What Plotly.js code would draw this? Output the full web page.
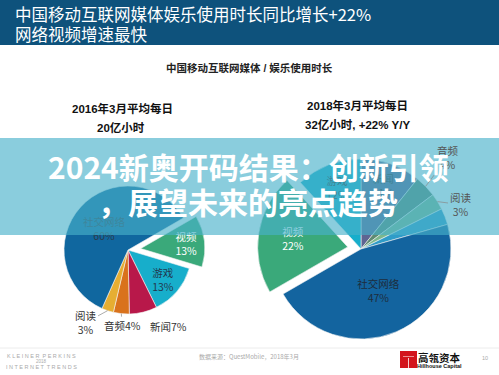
<!DOCTYPE html>
<html>
<head>
<meta charset="utf-8">
<script src="https://cdn.plot.ly/plotly-3.0.1.min.js"></script>
<style>html,body{margin:0;padding:0;background:#fff;}#chart{width:499px;height:375px;}</style>
</head>
<body>
<div id="chart"></div>
<script>
// ---- data ----
const leftLabels = ['视频', '游戏', '新闻', '音频', '阅读', '社交网络'];
const leftValues = [13, 13, 7, 4, 3, 60];
const rightLabels = ['新闻', '音频', '阅读', '其他', '社交网络', '视频', '游戏'];
const rightValues = [11, 4, 3, 3, 47, 22, 12];

const titleLines = ['中国移动互联网媒体娱乐使用时长同比增长+22%', '网络视频增速最快'];
const subTitle = '中国移动互联网媒体 / 娱乐使用时长';
const leftHeader = ['2016年3月平均每日', '20亿小时'];
const rightHeader = ['2018年3月平均每日', '32亿小时, +22% Y/Y'];
const bannerLines = ['2024新奥开码结果：创新引领', '，展望未来的亮点趋势'];

// ---- style ----
const W = 499, H = 375;
const px = x => x / W;
const py = y => 1 - y / H;
const CJK = 'Noto Sans CJK SC, Liberation Sans, sans-serif';
const ARIAL = 'Liberation Sans, Noto Sans CJK SC, sans-serif';

// pie geometry (pixels): centre, radius, pull
const LP = {cx: 128, cy: 250, r: 64, rot: 60, maxPull: 0.2};
const RP = {cx: 361, cy: 249, r: 90, rot: 0, maxPull: 0.15};
const dom = p => {
  const h = p.r * (1 + p.maxPull);
  return {x: [px(p.cx - h), px(p.cx + h)], y: [py(p.cy + h), py(p.cy - h)]};
};

const leftColors = ['#3aa97a', '#17aecb', '#b8184a', '#d9721c', '#e6ae32', '#10679f'];
const leftPos = ['inside', 'inside', 'none', 'none', 'none', 'inside'];
const leftTextColor = ['#ffffff', '#22384f', '#333', '#333', '#333', '#2b3b4b'];
// outside labels: [line break?, text offset dx, dy]
const leftOut = {2: [false, 25, 14], 3: [false, 1, 12], 4: [true, -22, 12]};

const rightColors = ['#5e6592', '#5f8a72', '#7cb78d', '#2f9cc8', '#13649f', '#3aa97a', '#17aecb'];
const rightPos = ['inside', 'none', 'none', 'none', 'inside', 'inside', 'inside'];
const rightTextColor = ['#333', '#555', '#555', '#333', '#1e2d3d', '#ffffff', '#333'];
const rightOut = {1: [true, 22, -29], 2: [true, 23, 3]};

const inText = (labels, values, pos) => labels.map((l, i) => pos[i] === 'inside' ? l + '<br>' + values[i] + '%' : '');

// leader-line anchor point at the middle of a slice's rim
const rimPoint = (p, values, i) => {
  const tot = values.reduce((a, b) => a + b, 0);
  let cum = 0;
  for (let k = 0; k < i; k++) cum += values[k];
  const th = (p.rot + 360 * (cum + values[i] / 2) / tot) * Math.PI / 180;
  return [p.cx + p.r * Math.sin(th), p.cy - p.r * Math.cos(th)];
};

const traces = [
  {
    type: 'pie', labels: leftLabels, values: leftValues, sort: false,
    direction: 'clockwise', rotation: LP.rot,
    pull: [0.2, 0, 0, 0, 0, 0],
    marker: {colors: leftColors, line: {color: '#f4f4f4', width: 0.6}},
    text: inText(leftLabels, leftValues, leftPos), textinfo: 'text',
    textposition: leftPos, insidetextorientation: 'horizontal',
    insidetextfont: {family: CJK, size: 10.5, color: leftTextColor},
    domain: dom(LP),
    hoverinfo: 'label+percent'
  },
  {
    type: 'pie', labels: rightLabels, values: rightValues, sort: false,
    direction: 'clockwise', rotation: RP.rot,
    pull: [0, 0, 0, 0, 0, 0.15, 0],
    marker: {colors: rightColors, line: {color: '#f4f4f4', width: 0.6}},
    text: inText(rightLabels, rightValues, rightPos), textinfo: 'text',
    textposition: rightPos, insidetextorientation: 'horizontal',
    insidetextfont: {family: CJK, size: 10.5, color: rightTextColor},
    domain: dom(RP),
    hoverinfo: 'label+percent'
  }
];

const ann = (x, y, text, font, extra) => Object.assign({
  xref: 'paper', yref: 'paper', x: px(x), y: py(y), text: text, showarrow: false,
  xanchor: 'center', yanchor: 'middle', font: font
}, extra || {});

const annotations = [
  ann(13, 14.5, titleLines[0], {family: CJK, size: 16.5, color: '#ffffff'}, {xanchor: 'left'}),
  ann(13, 33.5, titleLines[1], {family: CJK, size: 16.5, color: '#ffffff'}, {xanchor: 'left'}),
  ann(250, 68, '<b>' + subTitle + '</b>', {family: ARIAL, size: 10.5, color: '#222'}),
  ann(122, 109, '<b>' + leftHeader[0] + '</b>', {family: ARIAL, size: 11.5, color: '#111'}),
  ann(121, 128, '<b>' + leftHeader[1] + '</b>', {family: ARIAL, size: 11.5, color: '#111'}),
  ann(357, 106, '<b>' + rightHeader[0] + '</b>', {family: ARIAL, size: 11.5, color: '#111'}),
  ann(357, 125, '<b>' + rightHeader[1] + '</b>', {family: ARIAL, size: 11.5, color: '#111'}),
  ann(41, 355.5, 'K L E I N E R  P E R K I N S', {family: ARIAL, size: 5.5, color: '#aaaaaa'}),
  ann(41, 361.5, '2018', {family: ARIAL, size: 4.5, color: '#aaaaaa'}),
  ann(41, 367, 'I N T E R N E T  T R E N D S', {family: ARIAL, size: 5.5, color: '#aaaaaa'}),
  ann(249, 356, '数据来源：QuestMobile，2018年3月', {family: CJK, size: 6, color: '#aaaaaa'}),
  ann(439.5, 357, '<b>高瓴资本</b>', {family: CJK, size: 10.5, color: '#111'}),
  ann(439.5, 366, '<b>Hillhouse Capital</b>', {family: ARIAL, size: 5.5, color: '#111'}),
  ann(485, 358, '10', {family: ARIAL, size: 5.5, color: '#aaaaaa'})
];

// outside slice labels with leader lines
const addOut = (p, labels, values, outs, color) => {
  Object.keys(outs).forEach(k => {
    const i = +k, o = outs[k];
    const pt = rimPoint(p, values, i);
    annotations.push({
      xref: 'paper', yref: 'paper', x: px(pt[0]), y: py(pt[1]),
      text: labels[i] + (o[0] ? '<br>' : '') + values[i] + '%',
      showarrow: true, arrowhead: 0, arrowwidth: 0.7, arrowcolor: '#888',
      ax: o[1], ay: o[2], standoff: 0,
      font: {family: CJK, size: 10.5, color: color}
    });
  });
};
addOut(LP, leftLabels, leftValues, leftOut, '#333');
addOut(RP, rightLabels, rightValues, rightOut, '#555');

// banner text goes on top of everything
annotations.push(ann(248, 166, '<b>' + bannerLines[0] + '</b>', {family: CJK, size: 30, color: '#ffffff'}));
annotations.push(ann(248, 201, '<b>' + bannerLines[1] + '</b>', {family: CJK, size: 30, color: '#ffffff'}));

const shapes = [
  {type: 'rect', xref: 'paper', yref: 'paper', x0: 0, x1: 1, y0: py(45), y1: 1,
   fillcolor: '#0e527c', line: {width: 0}, layer: 'below'},
  {type: 'line', xref: 'paper', yref: 'paper', x0: 0, x1: 1, y0: py(348), y1: py(348),
   line: {color: '#ececec', width: 1}, layer: 'below'},
  {type: 'rect', xref: 'paper', yref: 'paper', x0: 0, x1: 1, y0: py(235), y1: py(138),
   fillcolor: 'rgba(72,176,202,0.64)', line: {width: 0}, layer: 'above'},
  {type: 'rect', xref: 'paper', yref: 'paper', x0: px(400), x1: px(417), y0: py(368), y1: py(351),
   fillcolor: '#d3141c', line: {width: 0}, layer: 'above'},
  {type: 'line', xref: 'paper', yref: 'paper', x0: px(403), x1: px(414), y0: py(356.5), y1: py(356.5),
   line: {color: '#f3b0b0', width: 0.8}, layer: 'above'},
  {type: 'line', xref: 'paper', yref: 'paper', x0: px(408.5), x1: px(408.5), y0: py(368), y1: py(358),
   line: {color: '#ffffff', width: 0.8}, layer: 'above'}
];

const layout = {
  width: W, height: H,
  margin: {l: 0, r: 0, t: 0, b: 0, pad: 0},
  paper_bgcolor: '#ffffff',
  showlegend: false,
  annotations: annotations,
  shapes: shapes
};

Plotly.newPlot('chart', traces, layout, {displayModeBar: false, staticPlot: true});
</script>
</body>
</html>
